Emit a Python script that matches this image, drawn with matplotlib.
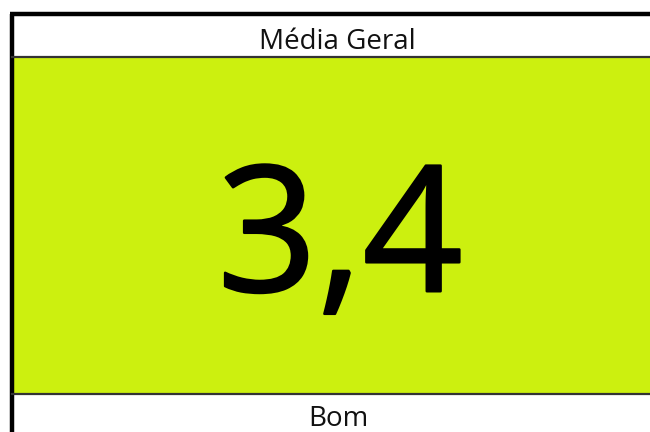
import matplotlib
matplotlib.use("Agg")
import matplotlib.pyplot as plt
import matplotlib.patheffects as pe
from matplotlib.patches import Rectangle

# Card content
titles = ["Média Geral"]
values = [3.4]
ratings = ["Bom"]

GREEN = "#CCF00F"
plt.rcParams["font.family"] = ["Open Sans", "DejaVu Sans"]

fig = plt.figure(figsize=(6.5, 4.32), dpi=100)
ax = fig.add_axes([0, 0, 1, 1])
ax.set_xlim(0, 650)
ax.set_ylim(432, 0)
ax.axis("off")

# green value panel
ax.add_patch(Rectangle((12, 57), 650, 336, facecolor=GREEN, edgecolor="none"))

# borders
ax.plot([11.5, 11.5], [14, 432], color="black", lw=3.2, solid_capstyle="butt")
ax.plot([10, 650], [14, 14], color="black", lw=3.2, solid_capstyle="butt")
ax.plot([12, 650], [57, 57], color="#333333", lw=1.6)
ax.plot([12, 650], [394, 394], color="#333333", lw=1.6)

value_text = f"{values[0]:.1f}".replace(".", ",")
ax.text(337, 49, titles[0], ha="center", va="baseline", fontsize=20, color="#111111")
ax.text(340, 246, value_text, ha="center", va="center", fontsize=126, color="black",
        path_effects=[pe.withStroke(linewidth=1.8, foreground="black")])
ax.text(338, 426, ratings[0], ha="center", va="baseline", fontsize=20, color="#111111")

fig.savefig("out.png", dpi=100)
